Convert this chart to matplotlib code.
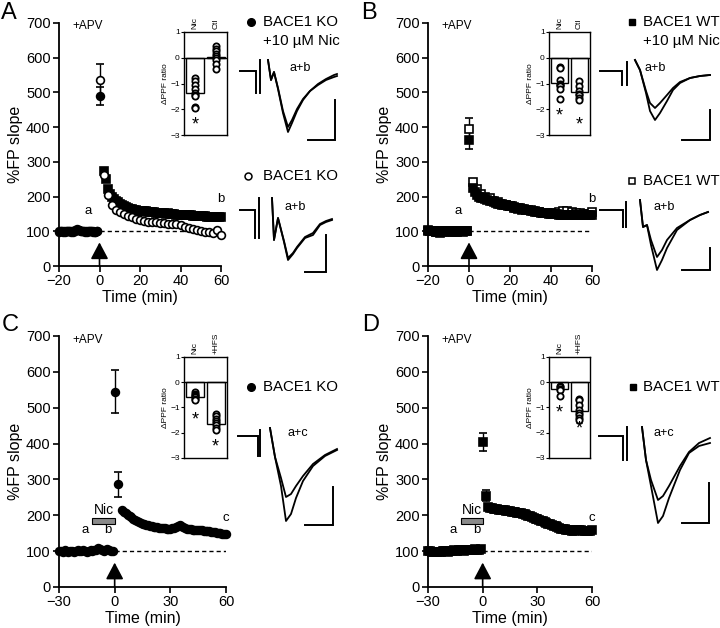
import numpy as np
import matplotlib
matplotlib.use('Agg')
from matplotlib import pyplot as plt
from matplotlib.patches import Rectangle

plt.rcParams['font.family'] = ['Liberation Sans', 'DejaVu Sans']

W, H = 720, 628

# ---------------- time course data (% FP slope) ----------------
# panel A: BACE1 KO, +10 uM Nic (filled) and control (open)
a_base_t = np.arange(-20, 0)
a_nic_base = [100, 101, 99, 100, 102, 100, 98, 101, 103, 108,
              104, 101, 100, 99, 100, 101, 100, 99, 98, 100]
a_ctl_base = [99, 100, 101, 99, 100, 101, 100, 99, 102, 105,
              103, 100, 101, 100, 99, 100, 101, 100, 99, 100]
a_nic_peak, a_nic_peak_err = 490, 25
a_ctl_peak, a_ctl_peak_err = 535, 48
a_nic_t = np.arange(2, 61)
a_nic_post = [275, 250, 222, 208, 200, 193, 188, 184, 180, 177,
              173, 170, 167, 165, 163, 162, 160, 159, 158, 158,
              157, 157, 156, 156, 155, 155, 154, 153, 153, 152,
              152, 151, 153, 150, 149, 149, 148, 148, 148, 147,
              147, 147, 146, 146, 145, 145, 144, 144, 144, 143,
              143, 142, 142, 142, 141, 141, 140, 140, 140]
a_ctl_t = np.arange(2, 61, 2)
a_ctl_post = [262, 205, 175, 162, 155, 150, 145, 140, 136, 133,
              130, 128, 127, 126, 125, 124, 122, 121, 120, 118,
              113, 110, 108, 104, 100, 98, 99, 96, 104, 89]

# panel B: BACE1 WT, +10 uM Nic (filled) and control (open)
b_base_t = np.arange(-20, 0)
b_nic_base = [103, 102, 100, 101, 99, 97, 96, 97, 99, 100,
              101, 100, 99, 98, 100, 101, 100, 99, 100, 101]
b_ctl_base = [101, 100, 102, 100, 98, 99, 100, 101, 100, 102,
              100, 99, 100, 101, 99, 100, 102, 100, 101, 100]
b_nic_peak, b_nic_peak_err = 362, 25
b_ctl_peak, b_ctl_peak_err = 395, 30
b_nic_t = np.arange(2, 61)
b_nic_post = [225, 212, 205, 200, 197, 195, 192, 190, 188, 186,
              184, 182, 180, 178, 177, 176, 175, 174, 173, 172,
              170, 168, 167, 166, 165, 163, 162, 161, 160, 158,
              157, 156, 155, 154, 153, 153, 152, 151, 150, 150,
              149, 149, 148, 148, 147, 148, 148, 147, 147, 146,
              146, 147, 146, 147, 147, 147, 146, 147, 147]
b_ctl_t = np.arange(2, 61, 2)
b_ctl_post = [243, 222, 208, 200, 195, 188, 183, 180, 176, 172,
              168, 165, 162, 160, 158, 156, 155, 153, 152, 152,
              153, 155, 157, 157, 156, 154, 152, 150, 150, 155]

# panel C: BACE1 KO, Nic then HFS
c_base_t = np.arange(-30, 0)
c_base = [100, 101, 99, 102, 100, 98, 101, 100, 99, 101,
          102, 100, 101, 103, 100, 99, 101, 102, 100, 104,
          103, 108, 106, 104, 101, 103, 105, 102, 100, 101]
c_early_t = [0, 2]
c_early = [545, 287]
c_early_err = [60, 35]
c_post_t = np.arange(4, 61)
c_post = [215, 210, 206, 202, 198, 194, 190, 187, 184, 181,
          179, 177, 175, 173, 172, 170, 169, 168, 167, 166,
          165, 165, 164, 164, 163, 163, 163, 164, 165, 167,
          170, 172, 171, 168, 165, 163, 162, 161, 160, 160,
          159, 159, 158, 158, 157, 157, 156, 155, 154, 153,
          152, 151, 150, 150, 149, 149, 149]

# panel D: BACE1 WT, Nic then HFS
d_base_t = np.arange(-30, 0)
d_base = [101, 100, 99, 98, 97, 98, 97, 99, 100, 101,
          100, 99, 100, 101, 102, 101, 100, 102, 103, 102,
          101, 103, 104, 103, 102, 104, 105, 104, 103, 105]
d_early_t = [0, 2]
d_early = [405, 255]
d_early_err = [25, 15]
d_post_t = np.arange(3, 61)
d_post = [222, 220, 219, 218, 217, 217, 216, 216, 215, 214,
          213, 212, 211, 210, 209, 208, 207, 206, 205, 204,
          203, 201, 199, 197, 195, 193, 191, 189, 187, 185,
          183, 181, 179, 177, 175, 173, 171, 169, 167, 165,
          163, 162, 161, 160, 159, 158, 157, 157, 158, 159,
          160, 158, 156, 155, 155, 156, 157, 158]

# ---------------- inset data (delta PPF ratio) ----------------
ins_a_cats = ['Nic', 'Ctl']
ins_a_means = [-1.35, 0.02]
ins_a_pts = [[-0.8, -0.9, -1.05, -1.2, -1.35, -1.45, -1.5, -1.9, -1.95],
             [0.45, 0.35, 0.25, 0.15, 0.05, 0.0, -0.1, -0.25, -0.45]]
ins_a_stars = [-2.6, None]

ins_b_cats = ['Nic', 'Ctl']
ins_b_means = [-0.97, -1.33]
ins_b_pts = [[-0.35, -0.4, -0.85, -1.0, -1.05, -1.1, -1.2, -1.6],
             [-0.9, -1.1, -1.3, -1.4, -1.45, -1.55, -1.65]]
ins_b_stars = [-2.25, -2.6]

ins_c_cats = ['Nic', '+HFS']
ins_c_means = [-0.6, -1.65]
ins_c_pts = [[-0.4, -0.45, -0.5, -0.55, -0.6, -0.65, -0.7],
             [-1.25, -1.35, -1.45, -1.55, -1.6, -1.7, -1.8, -1.9]]
ins_c_stars = [-1.5, -2.55]

ins_d_cats = ['Nic', '+HFS']
ins_d_means = [-0.28, -1.12]
ins_d_pts = [[-0.15, -0.2, -0.25, -0.3, -0.55],
             [-0.65, -0.7, -0.9, -1.1, -1.2, -1.3, -1.4, -1.5]]
ins_d_stars = [-1.2, -1.85]

# ---------------- example field potentials (x: ms-ish, y: amplitude) ----------------
trA1_x = [28, 31, 34, 38, 43, 48, 52, 57, 63, 70, 78, 86, 94, 97]
trA1_y1 = [11, -9, -1, -18, -42, -61, -52, -40, -29, -20, -13, -8, -4, -3]
trA1_y2 = [11, -9, -1, -17, -40, -56, -49, -38, -28, -20, -14, -9, -6, -5]
trA2_x = [32, 34, 38, 44, 48, 53, 57, 65, 73, 80, 86, 92]
trA2_y1 = [12, -30, -8, -32, -50, -44, -38, -28, -25, -15, -12, -10]
trA2_y2 = [12, -30, -8, -31, -48, -43, -37, -27, -23, -14, -11, -9]
trB1_x = [35, 40, 46, 50, 55, 60, 67, 73, 80, 90, 100, 110]
trB1_y1 = [11, 1, -22, -40, -49, -42, -30, -19, -12, -7, -5, -4]
trB1_y2 = [11, 1, -20, -32, -37, -32, -24, -17, -11, -7, -5, -4]
trB2_x = [40, 43, 47, 51, 57, 62, 67, 77, 90, 100, 108]
trB2_y1 = [10, -17, -15, -35, -60, -50, -38, -20, -10, -5, -2]
trB2_y2 = [10, -17, -15, -30, -47, -40, -30, -18, -10, -5, -2]
trC_x = [32, 37, 43, 48, 53, 58, 65, 75, 87, 99]
trC_y1 = [8, -21, -50, -85, -78, -62, -45, -30, -20, -14]
trC_y2 = [8, -21, -42, -61, -58, -50, -40, -28, -19, -13]
trD_x = [43, 47, 52, 59, 64, 70, 81, 90, 100, 111]
trD_y1 = [9, -24, -50, -87, -80, -62, -34, -17, -10, -7]
trD_y2 = [9, -24, -44, -64, -60, -50, -30, -16, -7, -2]

fig = plt.figure(figsize=(W / 100, H / 100), dpi=100)


def px_axes(l, t, r, b):
    return fig.add_axes([l / W, 1 - b / H, (r - l) / W, (b - t) / H])


def main_axes(box, xlim, xticks):
    ax = px_axes(*box)
    ax.set_xlim(xlim)
    ax.set_ylim(0, 700)
    for s in ['top', 'right']:
        ax.spines[s].set_visible(False)
    for s in ['left', 'bottom']:
        ax.spines[s].set_linewidth(1.3)
    ax.set_xticks(xticks)
    ax.set_yticks(range(0, 701, 100))
    ax.tick_params(direction='out', length=4, width=1.2, labelsize=10.5, pad=2)
    ax.set_xlabel('Time (min)', fontsize=11.5, labelpad=1)
    ax.set_ylabel('%FP slope', fontsize=11.5, labelpad=2)
    ax.axhline(100, xmin=(0 - xlim[0]) / (xlim[1] - xlim[0]), xmax=1,
               color='k', ls=(0, (3, 2.2)), lw=1)
    ax.annotate('', xy=(0, 68), xytext=(0, 0), annotation_clip=False,
                arrowprops=dict(arrowstyle='-|>,head_length=0.85,head_width=0.45',
                                mutation_scale=12, color='k', lw=1.2,
                                shrinkA=0, shrinkB=0))
    ax.text(xlim[0] + 0.08 * (xlim[1] - xlim[0]), 690, '+APV', fontsize=8.5,
            va='center', ha='left')
    return ax


def series(ax, t, v, err, marker, filled, ms=5.6, cap=1.5, z=3):
    ax.errorbar(t, v, yerr=err, fmt=marker, ms=ms,
                mfc='k' if filled else 'white', mec='k', mew=1.2,
                ecolor='k', elinewidth=1, capsize=cap, capthick=1,
                clip_on=False, zorder=z)


def inset(box, cats, means, pts, stars):
    ax = px_axes(*box)
    x = np.arange(len(cats))
    ax.bar(x, means, width=0.88, color='white', edgecolor='k', lw=1, zorder=1)
    ax.axhline(0, color='k', lw=1, zorder=2)
    for i, p in enumerate(pts):
        ax.plot(np.full(len(p), x[i]), p, 'o', ms=4.5, mfc='white', mec='k',
                mew=1.3, zorder=3)
        if stars[i] is not None:
            ax.text(x[i], stars[i], '*', ha='center', va='center', fontsize=13)
    ax.set_xlim(-0.55, 1.55)
    ax.set_ylim(-3, 1)
    ax.set_yticks([1, 0, -1, -2, -3])
    ax.tick_params(axis='y', labelsize=6, length=2, width=0.8, pad=1)
    ax.xaxis.tick_top()
    ax.set_xticks(x)
    ax.set_xticklabels(cats, rotation=90, fontsize=6)
    ax.tick_params(axis='x', length=0, pad=2)
    ax.set_ylabel('ΔPPF ratio', fontsize=6, labelpad=1)
    for s in ax.spines.values():
        s.set_linewidth(1)
    return ax


# ---- A ----
axA = main_axes((59, 23, 221, 266), (-20, 60), [-20, 0, 20, 40, 60])
series(axA, a_base_t, a_ctl_base, 2, 'o', False, z=2)
series(axA, a_ctl_t, a_ctl_post, 6, 'o', False, z=4)
series(axA, a_base_t, a_nic_base, 2, 'o', True)
series(axA, a_nic_t, a_nic_post, 8, 's', True, ms=5.2)
series(axA, [0], [a_nic_peak], a_nic_peak_err, 'o', True, cap=3)
series(axA, [0], [a_ctl_peak], a_ctl_peak_err, 'o', False, cap=3, z=4)
axA.text(-5.5, 150, 'a', fontsize=9.5, ha='center')
axA.text(60, 185, 'b', fontsize=9.5, ha='center')

# ---- B ----
axB = main_axes((428, 23, 592, 266), (-20, 60), [-20, 0, 20, 40, 60])
series(axB, b_base_t, b_ctl_base, 2, 's', False, ms=5.2, z=2)
series(axB, b_ctl_t, b_ctl_post, 6, 's', False, ms=5.2, z=2)
series(axB, b_base_t, b_nic_base, 2, 's', True, ms=5.2)
series(axB, b_nic_t, b_nic_post, 5, 's', True, ms=5.2)
series(axB, [0], [b_ctl_peak], b_ctl_peak_err, 's', False, ms=5.2, cap=3, z=4)
series(axB, [0], [b_nic_peak], b_nic_peak_err, 's', True, ms=5.2, cap=3)
axB.text(-5.5, 150, 'a', fontsize=9.5, ha='center')
axB.text(60, 185, 'b', fontsize=9.5, ha='center')

# ---- C ----
axC = main_axes((59, 336, 226, 587), (-30, 60), [-30, 0, 30, 60])
series(axC, c_base_t, c_base, 2, 'o', True)
series(axC, c_early_t, c_early, c_early_err, 'o', True, cap=3)
series(axC, c_post_t, c_post, 3, 'o', True)
axC.add_patch(Rectangle((-12, 177), 12, 15, fc='#8a8a8a', ec='k', lw=0.8))
axC.text(-6, 196, 'Nic', fontsize=10, ha='center', va='bottom')
axC.text(-16, 150, 'a', fontsize=9.5, ha='center')
axC.text(-3.5, 150, 'b', fontsize=9.5, ha='center')
axC.text(60, 185, 'c', fontsize=9.5, ha='center')

# ---- D ----
axD = main_axes((428, 336, 592, 587), (-30, 60), [-30, 0, 30, 60])
series(axD, d_base_t, d_base, 2, 's', True, ms=5.2)
series(axD, d_early_t, d_early, d_early_err, 's', True, ms=5.8, cap=3)
series(axD, d_post_t, d_post, 8, 's', True, ms=5.4)
axD.add_patch(Rectangle((-12, 177), 12, 15, fc='#8a8a8a', ec='k', lw=0.8))
axD.text(-6, 196, 'Nic', fontsize=10, ha='center', va='bottom')
axD.text(-16, 150, 'a', fontsize=9.5, ha='center')
axD.text(-3.5, 150, 'b', fontsize=9.5, ha='center')
axD.text(60, 185, 'c', fontsize=9.5, ha='center')

# ---- insets ----
inset((184, 32, 227, 135), ins_a_cats, ins_a_means, ins_a_pts, ins_a_stars)
inset((549, 32, 590, 135), ins_b_cats, ins_b_means, ins_b_pts, ins_b_stars)
inset((184, 357, 227, 458), ins_c_cats, ins_c_means, ins_c_pts, ins_c_stars)
inset((549, 357, 590, 458), ins_d_cats, ins_d_means, ins_d_pts, ins_d_stars)

# ---- overlay: traces, legends, panel letters ----
ov = fig.add_axes([0, 0, 1, 1], zorder=10)
ov.set_xlim(0, W)
ov.set_ylim(H, 0)
ov.axis('off')


def trace(ox, oy, stim, wx, wy1, wy2, bar, label, lx):
    sw, sh, d, top = stim
    kw = dict(color='k', lw=1.4, solid_joinstyle='miter')
    ov.plot([ox, ox + sw, ox + sw], [oy, oy, oy + sh], **kw)
    ov.plot([ox + sw + d, ox + sw + d], [oy - top, oy + sh], **kw)
    ov.plot(ox + np.array(wx), oy - np.array(wy1), color='k', lw=1.3)
    ov.plot(ox + np.array(wx), oy - np.array(wy2), color='k', lw=1.3)
    bx, btop, bbot, bleft = bar
    ov.plot([ox + bleft, ox + bx, ox + bx], [oy - bbot, oy - bbot, oy - btop], **kw)
    ov.text(lx, oy - 3, label, fontsize=9, ha='center', va='center')


trace(240, 71, (16, 22, 4, 11), trA1_x, trA1_y1, trA1_y2, (95, -29, -69, 68), 'a+b', 300)
trace(240, 210, (15, 28, 4, 12), trA2_x, trA2_y1, trA2_y2, (86, -25, -62, 65), 'a+b', 295)
trace(600, 71, (22, 14, 5, 9), trB1_x, trB1_y1, trB1_y2, (110, -39, -69, 82), 'a+b', 655)
trace(600, 210, (23, 17, 3, 8), trB2_x, trB2_y1, trB2_y2, (110, -38, -60, 82), 'a+b', 664)
trace(238, 436, (20, 20, 2, 6), trC_x, trC_y1, trC_y2, (95, -51, -89, 67), 'a+c', 298)
trace(599, 436, (24, 24, 4, 9), trD_x, trD_y1, trD_y2, (110, -47, -87, 83), 'a+c', 664)

leg = dict(fontsize=10.8, ha='left', va='center')
ov.plot(251, 22, 'o', ms=5.5, color='k')
ov.text(263, 22, 'BACE1 KO', **leg)
ov.text(263, 41, '+10 µM Nic', **leg)
ov.plot(248, 176, 'o', ms=5, mfc='white', mec='k', mew=1.1)
ov.text(263, 176, 'BACE1 KO', **leg)
ov.plot(632, 22, 's', ms=5, color='k')
ov.text(643, 22, 'BACE1 WT', **leg)
ov.text(643, 41, '+10 µM Nic', **leg)
ov.plot(632, 181, 's', ms=5, mfc='white', mec='k', mew=1.1)
ov.text(643, 181, 'BACE1 WT', **leg)
ov.plot(251, 387, 'o', ms=5.5, color='k')
ov.text(263, 387, 'BACE1 KO', **leg)
ov.plot(633, 387, 's', ms=5, color='k')
ov.text(643, 387, 'BACE1 WT', **leg)

for lab, x, y in [('A', 1, 2), ('B', 361, 2), ('C', 2, 314), ('D', 362, 314)]:
    ov.text(x, y, lab, fontsize=17, ha='left', va='top')

fig.savefig('out.png', dpi=100)
